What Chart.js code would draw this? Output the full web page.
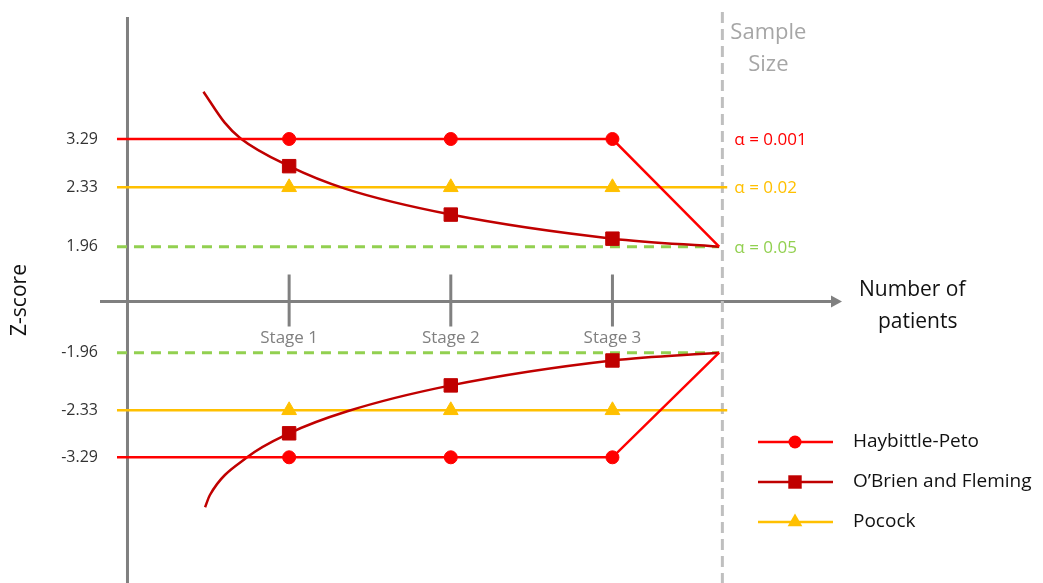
<!DOCTYPE html>
<html>
<head>
<meta charset="utf-8">
<script src="https://cdn.jsdelivr.net/npm/chart.js@4.4.1/dist/chart.umd.min.js"></script>
<style>
  body { margin: 0; background: #fff; }
  canvas { display: block; }
</style>
</head>
<body>
<canvas id="boundaryChart" width="1043" height="583"></canvas>
<script>
// interim analyses (x = fraction of the way to the full sample, in stages)
const stages = [1, 2, 3];
const stageLabels = ['Stage 1', 'Stage 2', 'Stage 3'];
const sampleSize = 3.68;

// z-score levels shown on the axis
const zTicks = [3.29, 2.33, 1.96, -1.96, -2.33, -3.29];

// Haybittle-Peto
const hpX = [-0.065, 1, 2, 3, 3.66];
const hpUpper = [3.29, 3.29, 3.29, 3.29, 1.96];
const hpLower = [-3.29, -3.29, -3.29, -3.29, -1.96];

// O'Brien and Fleming
const obfUpperX = [0.47, 0.60, 0.70, 1, 1.35, 2, 3, 3.66];
const obfUpper = [4.23, 3.62, 3.30, 2.75, 2.32, 2.16, 2.01, 1.96];
const obfLowerX = [0.48, 0.51, 0.74, 1, 1.36, 2, 3, 3.66];
const obfLower = [-4.31, -4.06, -3.29, -2.80, -2.35, -2.17, -2.01, -1.96];

// Pocock
const pocockX = [-0.065, 1, 2, 3, 3.71];
const pocockUpper = [2.33, 2.33, 2.33, 2.33, 2.33];
const pocockLower = [-2.33, -2.33, -2.33, -2.33, -2.33];

// unadjusted alpha = 0.05
const alphaX = [-0.065, 3.66];
const alphaUpper = [1.96, 1.96];
const alphaLower = [-1.96, -1.96];

const alphaLabels = ['α = 0.001', 'α = 0.02', 'α = 0.05'];
const alphaLevels = [3.29, 2.33, 1.96];
const designs = ['Haybittle-Peto', 'O’Brien and Fleming', 'Pocock'];

// the drawing is schematic: each z level gets its own spacing on the axis
const knotZ = [3.29, 2.33, 1.96, 0, -1.96, -2.33, -3.29];
const knotHeight = [162.5, 114.2, 54.8, 0, -51.2, -108.8, -155.8];

const RED = '#FF0000', DARKRED = '#C00000', GOLD = '#FFC000', GREEN = '#92D050';

class SchematicScale extends Chart.LinearScale {
  toDisplay(z) {
    const n = knotZ.length;
    let i = 0;
    if (z >= knotZ[0]) i = 0;
    else if (z <= knotZ[n - 1]) i = n - 2;
    else while (i < n - 2 && z < knotZ[i + 1]) i++;
    const t = (z - knotZ[i]) / (knotZ[i + 1] - knotZ[i]);
    return knotHeight[i] + t * (knotHeight[i + 1] - knotHeight[i]);
  }
  getPixelForValue(value) {
    return super.getPixelForValue(this.toDisplay(value));
  }
}
SchematicScale.id = 'schematic';
SchematicScale.defaults = Chart.LinearScale.defaults;
Chart.register(SchematicScale);

Chart.defaults.font.family = '"Open Sans", "Noto Sans", sans-serif';

function series(xs, ys) {
  return xs.map((x, i) => ({ x: x, y: ys[i] }));
}

function boundary(label, xs, ys, color, style, size) {
  return {
    label: label,
    data: series(xs, ys),
    borderColor: color,
    backgroundColor: color,
    borderWidth: 2.5,
    pointStyle: style,
    pointBorderColor: color,
    pointBorderWidth: 1,
    pointRadius: c => (c.raw && stages.includes(c.raw.x)) ? size : 0,
    tension: 0
  };
}

function drawMarker(ctx, style, x, y, r, color) {
  ctx.fillStyle = color;
  ctx.beginPath();
  if (style === 'circle') {
    ctx.arc(x, y, r, 0, Math.PI * 2);
  } else if (style === 'rect') {
    const s = r * Math.SQRT1_2;
    ctx.rect(x - s, y - s, 2 * s, 2 * s);
  } else {
    ctx.moveTo(x, y - r);
    ctx.lineTo(x + r * Math.sin(2 * Math.PI / 3), y + r / 2);
    ctx.lineTo(x - r * Math.sin(2 * Math.PI / 3), y + r / 2);
    ctx.closePath();
  }
  ctx.fill();
}

const guides = {
  id: 'guides',
  beforeDatasetsDraw(chart) {
    const { ctx, chartArea: a, scales: { x, y } } = chart;
    const x0 = x.getPixelForValue(0);
    const y0 = y.getPixelForValue(0);
    const xs = x.getPixelForValue(sampleSize);
    ctx.save();
    ctx.strokeStyle = '#808080';
    ctx.lineWidth = 3;
    ctx.beginPath();
    ctx.moveTo(x0, a.top);
    ctx.lineTo(x0, a.bottom);
    ctx.moveTo(a.left, y0);
    ctx.lineTo(a.right - 9, y0);
    stages.forEach(s => {
      const px = x.getPixelForValue(s);
      ctx.moveTo(px, y0 - 27);
      ctx.lineTo(px, y0 + 25);
    });
    ctx.stroke();
    ctx.fillStyle = '#808080';
    ctx.beginPath();
    ctx.moveTo(a.right, y0);
    ctx.lineTo(a.right - 11, y0 - 6);
    ctx.lineTo(a.right - 11, y0 + 6);
    ctx.closePath();
    ctx.fill();

    ctx.strokeStyle = '#BFBFBF';
    ctx.setLineDash([11, 6]);
    ctx.beginPath();
    ctx.moveTo(xs, a.top - 5);
    ctx.lineTo(xs, chart.height);
    ctx.stroke();
    ctx.restore();
  },
  afterDraw(chart) {
    const { ctx, chartArea: a, scales: { x, y } } = chart;
    const y0 = y.getPixelForValue(0);
    const xs = x.getPixelForValue(sampleSize);
    ctx.save();
    ctx.textBaseline = 'middle';

    ctx.font = '22px "Open Sans"';
    ctx.fillStyle = '#A6A6A6';
    ctx.textAlign = 'center';
    ctx.fillText('Sample', xs + 46, a.top + 16);
    ctx.fillText('Size', xs + 46, a.top + 48);

    ctx.font = '17px "Open Sans"';
    ctx.textAlign = 'left';
    [RED, GOLD, GREEN].forEach((c, i) => {
      ctx.fillStyle = c;
      ctx.fillText(alphaLabels[i], xs + 12, y.getPixelForValue(alphaLevels[i]) + 1);
    });

    ctx.font = '21px "Open Sans"';
    ctx.fillStyle = '#111';
    ctx.fillText('Number of', 859, y0 - 11);
    ctx.fillText('patients', 878, y0 + 21);

    const keys = [
      { color: RED, style: 'circle', r: 6.5 },
      { color: DARKRED, style: 'rect', r: 9.5 },
      { color: GOLD, style: 'triangle', r: 8.5 }
    ];
    ctx.font = '19px "Open Sans"';
    keys.forEach((k, i) => {
      const ly = 442 + i * 40;
      ctx.strokeStyle = k.color;
      ctx.lineWidth = 2.5;
      ctx.beginPath();
      ctx.moveTo(758, ly);
      ctx.lineTo(833, ly);
      ctx.stroke();
      drawMarker(ctx, k.style, 795, ly, k.r, k.color);
      ctx.fillStyle = '#111';
      ctx.fillText(designs[i], 853, ly);
    });
    ctx.restore();
  }
};

const ctx = document.getElementById('boundaryChart').getContext('2d');
new Chart(ctx, {
  type: 'line',
  data: {
    datasets: [
      boundary('Haybittle-Peto', hpX, hpUpper, RED, 'circle', 6.5),
      boundary('Haybittle-Peto', hpX, hpLower, RED, 'circle', 6.5),
      Object.assign(boundary('O’Brien and Fleming', obfUpperX, obfUpper, DARKRED, 'rect', 9.5), { cubicInterpolationMode: 'monotone' }),
      Object.assign(boundary('O’Brien and Fleming', obfLowerX, obfLower, DARKRED, 'rect', 9.5), { cubicInterpolationMode: 'monotone' }),
      boundary('Pocock', pocockX, pocockUpper, GOLD, 'triangle', 8.5),
      boundary('Pocock', pocockX, pocockLower, GOLD, 'triangle', 8.5),
      { label: 'α = 0.05', data: series(alphaX, alphaUpper), borderColor: GREEN, borderWidth: 3, borderDash: [10, 7], pointRadius: 0 },
      { label: 'α = 0.05', data: series(alphaX, alphaLower), borderColor: GREEN, borderWidth: 3, borderDash: [10, 7], pointRadius: 0 }
    ]
  },
  options: {
    responsive: false,
    animation: false,
    events: [],
    layout: { padding: { top: 17, right: 201, bottom: 0, left: 0 } },
    scales: {
      x: {
        type: 'linear',
        min: -0.17,
        max: 4.42,
        position: { y: 0 },
        afterBuildTicks: s => { s.ticks = stages.map(v => ({ value: v })); },
        afterFit: s => { s.paddingLeft = 0; s.paddingRight = 0; },
        grid: { display: false, drawTicks: false },
        border: { display: false },
        ticks: {
          autoSkip: false,
          maxRotation: 0,
          padding: 26,
          color: '#808080',
          font: { size: 17 },
          callback: v => stageLabels[stages.indexOf(v)]
        }
      },
      y: {
        type: 'schematic',
        min: -281.5,
        max: 284.5,
        bounds: 'data',
        afterBuildTicks: s => { s.ticks = zTicks.map(v => ({ value: v })); },
        afterFit: s => { s.width = 100; s.paddingTop = 0; s.paddingBottom = 0; },
        grid: { display: false, drawTicks: false },
        border: { display: false },
        ticks: {
          autoSkip: false,
          padding: 2,
          color: '#333',
          font: { size: 16 },
          callback: v => v.toFixed(2)
        },
        title: {
          display: true,
          text: 'Z-score',
          color: '#111',
          font: { size: 21 },
          padding: { top: 7, bottom: 0 }
        }
      }
    },
    plugins: {
      legend: { display: false },
      tooltip: { enabled: false }
    }
  },
  plugins: [guides]
});
</script>
</body>
</html>
